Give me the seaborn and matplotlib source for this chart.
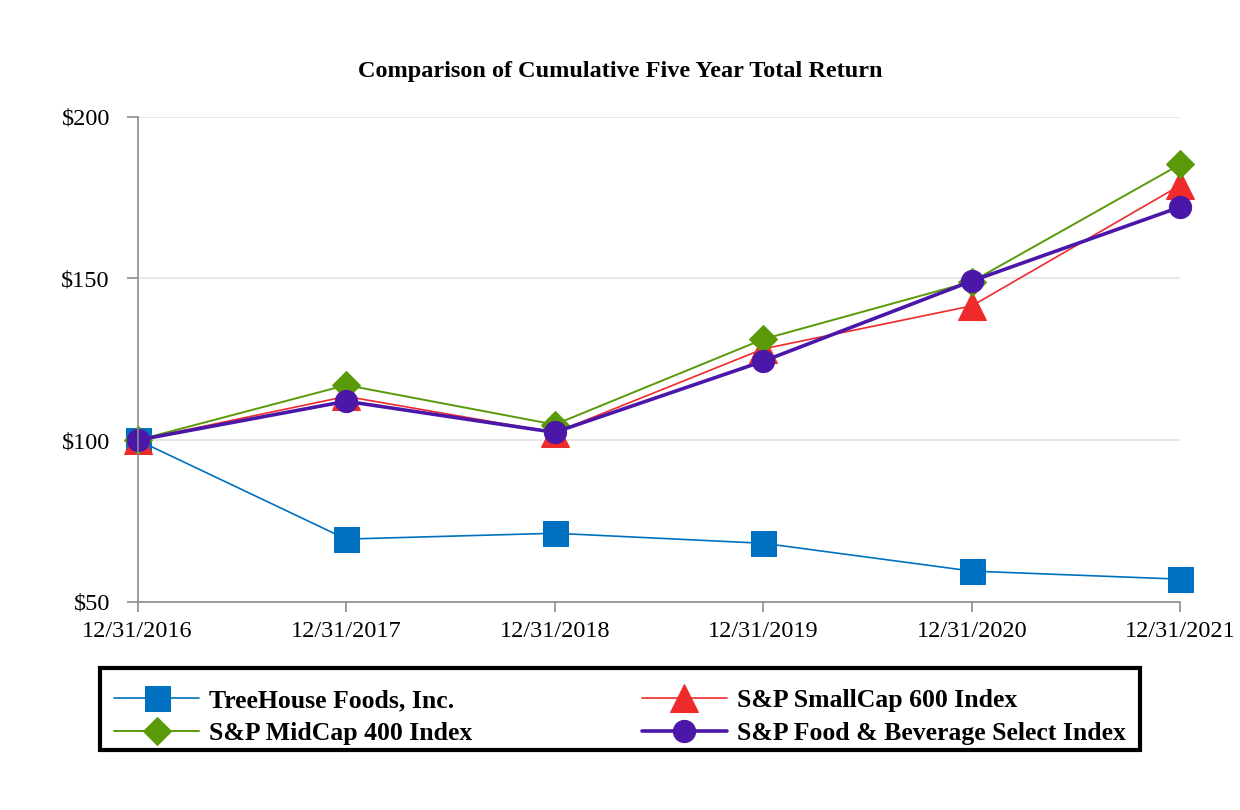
import matplotlib
matplotlib.use("Agg")
import matplotlib.pyplot as plt
import seaborn as sns
import pandas as pd

years = ["12/31/2016", "12/31/2017", "12/31/2018", "12/31/2019", "12/31/2020", "12/31/2021"]
treehouse = [100, 69.4, 71.2, 68.1, 59.5, 57.0]
smallcap = [100, 113.5, 102.3, 128.2, 141.5, 178.8]
midcap = [100, 117.0, 104.8, 131.2, 149.0, 185.3]
foodbev = [100, 112.0, 102.4, 124.4, 149.2, 172.1]

names = ["TreeHouse Foods, Inc.", "S&P SmallCap 600 Index",
         "S&P MidCap 400 Index", "S&P Food & Beverage Select Index"]
series = [treehouse, smallcap, midcap, foodbev]
colors = ["#0070C0", "#EE2A2A", "#5A9A08", "#4B17A8"]
markers = ["s", "^", "D", "o"]
msizes = [18, 20, 14, 16]
widths = [1.2, 1.2, 1.4, 2.6]

sns.set_style("white")
plt.rcParams["font.family"] = ["Liberation Serif", "DejaVu Serif"]
plt.rcParams["text.color"] = "black"
plt.rcParams["xtick.color"] = "black"
plt.rcParams["ytick.color"] = "black"

W, H = 1240, 810
fig = plt.figure(figsize=(W / 100, H / 100), dpi=100)
ax = fig.add_axes([0.111, 0.257, 0.841, 0.599])

x = list(range(len(years)))
handles = {}
for name, vals, c, m, ms, lw in zip(names, series, colors, markers, msizes, widths):
    df = pd.DataFrame({"x": x, "y": vals})
    sns.lineplot(data=df, x="x", y="y", ax=ax, color=c, marker=m, markersize=ms,
                 markeredgecolor=c, linewidth=lw, label=name, legend=False)
    handles[name] = ax.lines[-1]

ax.set_xlim(0, len(years) - 1)
ax.set_ylim(50, 200)
ax.set_xticks(x)
ax.set_xticklabels(years, fontsize=17.5)
ax.set_yticks([50, 100, 150, 200])
ax.set_yticklabels(["$50", "$100", "$150", "$200"], fontsize=17.5)
ax.set_xlabel("")
ax.set_ylabel("")
ax.grid(axis="y", color="#e3e3e3", linewidth=1.2)
ax.set_axisbelow(True)
for s in ["top", "right"]:
    ax.spines[s].set_visible(False)
for s in ["left", "bottom"]:
    ax.spines[s].set_color("#8c8c8c")
    ax.spines[s].set_linewidth(1.2)
ax.tick_params(axis="both", direction="out", color="#8c8c8c", width=1.2,
               bottom=True, left=True, labelcolor="black")
ax.tick_params(axis="x", length=7, pad=7)
ax.tick_params(axis="y", length=8, pad=12)
for ln in ax.lines:
    ln.set_clip_on(False)

fig.text(0.5, 0.912, "Comparison of Cumulative Five Year Total Return",
         ha="center", va="center", fontsize=17.5, fontweight="bold", color="black")

# legend: two columns, filled column-first, frame drawn separately
order = [names[0], names[2], names[1], names[3]]
leg = fig.legend([handles[n] for n in order], order, ncol=2,
                 loc="center", bbox_to_anchor=(100 / W, 1 - 760 / H, 1040 / W, 86 / H),
                 bbox_transform=fig.transFigure, mode="expand",
                 prop={"weight": "bold", "size": 18.5}, frameon=False,
                 handlelength=3.3, columnspacing=4, labelspacing=0.36,
                 borderpad=0.55, handletextpad=0.4, borderaxespad=0)
for t in leg.get_texts():
    t.set_color("black")
fig.add_artist(plt.Rectangle((100 / W, 1 - 750 / H), 1040 / W, 82 / H,
                             transform=fig.transFigure, fill=False,
                             edgecolor="black", linewidth=3))

fig.savefig("out.png", dpi=100)
